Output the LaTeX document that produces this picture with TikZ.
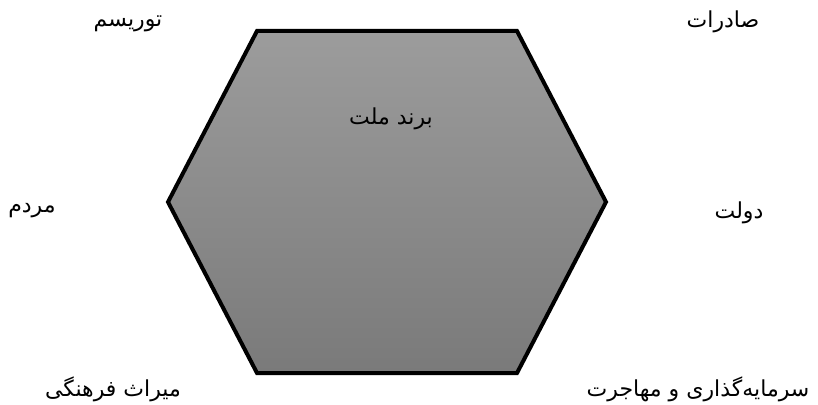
\documentclass[tikz,border=0pt]{standalone}
\usepackage{fontspec}
\TeXXeTstate=1
\newfontfamily\arabicfont[Script=Arabic]{DejaVu Sans}
\definecolor{hextop}{RGB}{156,156,156}
\definecolor{hexbot}{RGB}{122,122,122}
\begin{document}
\begin{tikzpicture}[x=1pt,y=-1pt,
  lbl/.style={font=\arabicfont\fontsize{22}{26}\selectfont, inner sep=0pt},
  hexshape/.style={draw=black, line width=4pt, line join=miter, top color=hextop, bottom color=hexbot}]
\useasboundingbox (0,0) rectangle (818,404);
\coordinate (h1) at (257,31);
\coordinate (h2) at (517,31);
\coordinate (h3) at (606,202);
\coordinate (h4) at (517,373);
\coordinate (h5) at (257,373);
\coordinate (h6) at (168,202);
\path[hexshape] (h1) -- (h2) -- (h3) -- (h4) -- (h5) -- (h6) -- cycle;
\node[lbl] (center) at (391,119) {\beginR برند ملت\endR};
\node[lbl] (tourism) at (128,24) {\beginR توریسم\endR};
\node[lbl] (export) at (723,22) {\beginR صادرات\endR};
\node[lbl] (people) at (32,211) {\beginR مردم\endR};
\node[lbl] (gov) at (739,213) {\beginR دولت\endR};
\node[lbl] (heritage) at (113,389) {\beginR میراث فرهنگی\endR};
\node[lbl] (invest) at (698,389) {\beginR سرمایه‌گذاری و مهاجرت\endR};
\end{tikzpicture}
\end{document}
